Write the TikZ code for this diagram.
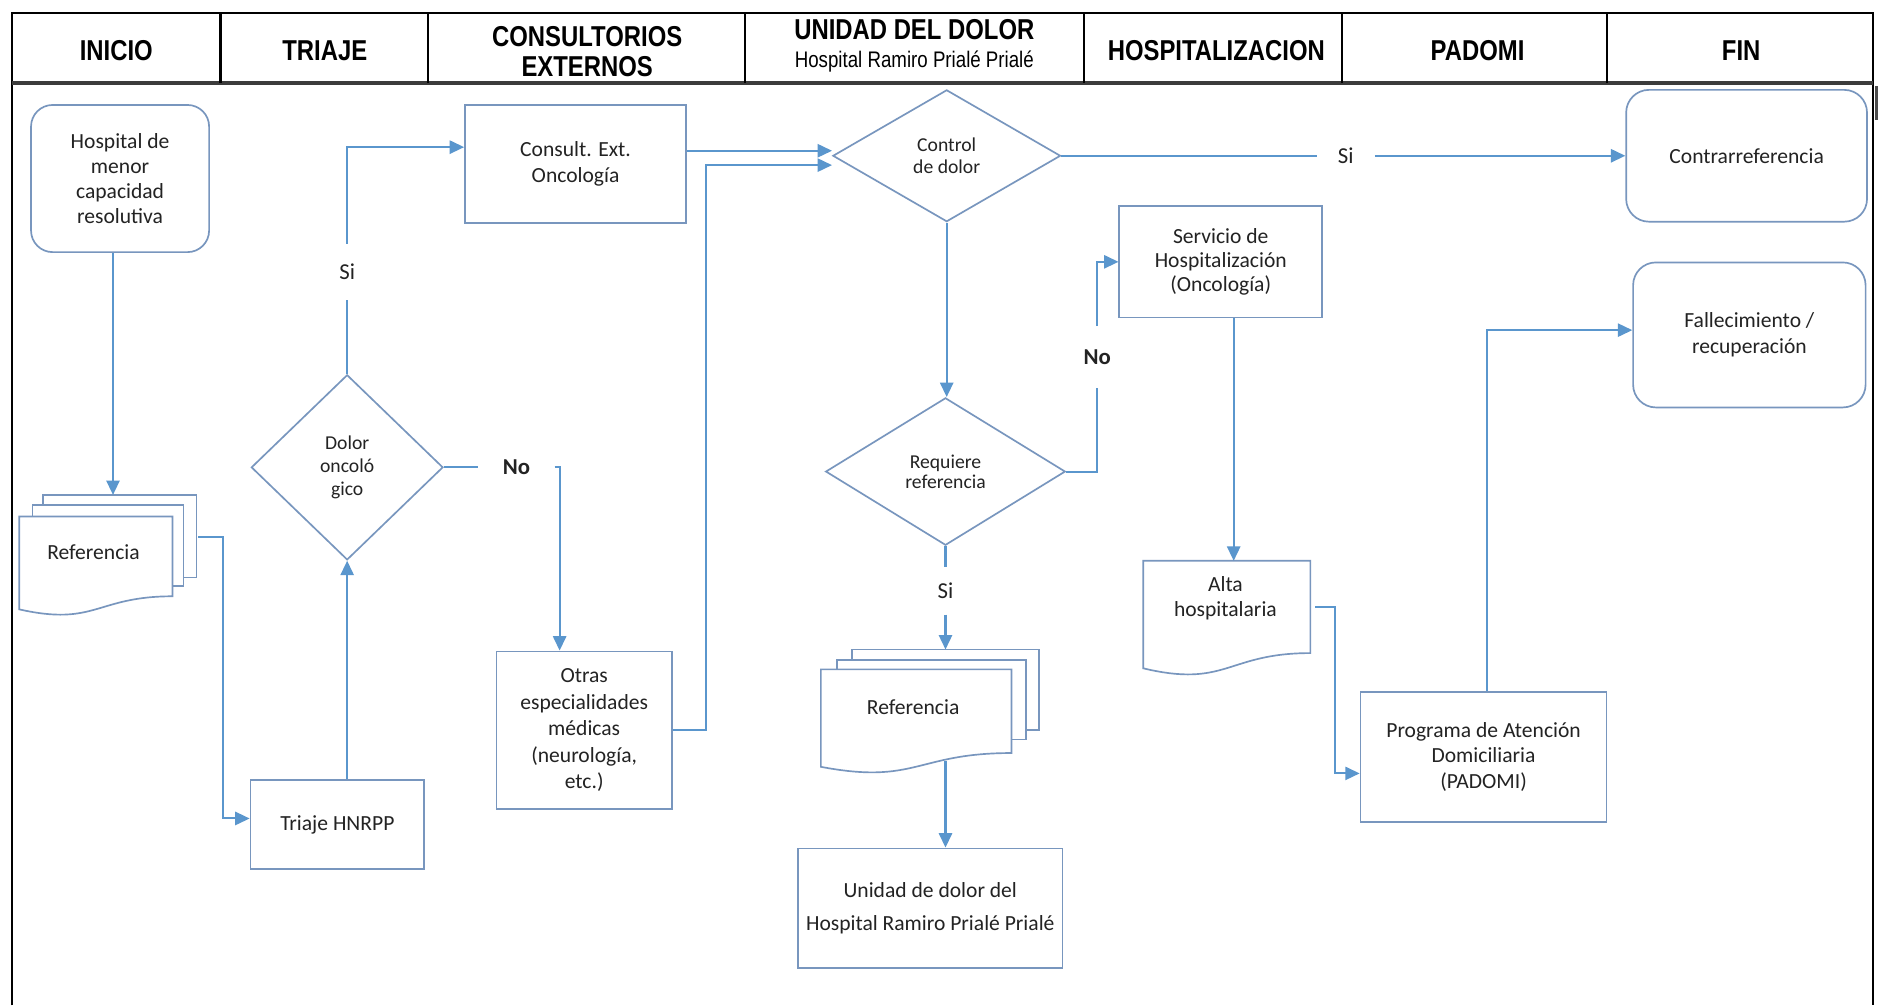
\documentclass[tikz,border=0pt]{standalone}
\usepackage{fontspec}
\setmainfont{Carlito}
\newfontfamily\hdrfont[FakeStretch=0.83]{Liberation Sans}
\usetikzlibrary{arrows.meta,shapes.geometric,calc}
\definecolor{boxc}{RGB}{120,150,190}
\definecolor{linec}{RGB}{90,150,205}
\definecolor{txt}{RGB}{35,35,35}
\definecolor{hdrline}{RGB}{60,60,60}
\newcommand\bodyfont{\fontsize{9}{10.5}\selectfont}
\newcommand\diafont{\fontsize{8.2}{9}\selectfont}
\newcommand\lblfont{\fontsize{9.5}{11}\selectfont}
\newcommand\hdrbig{\hdrfont\bfseries\fontsize{12}{12.8}\selectfont}
\newcommand\hdrsmall{\hdrfont\fontsize{9.4}{11}\selectfont}
\begin{document}
\begin{tikzpicture}[x=0.5pt,y=-0.5pt,
  box/.style={draw=boxc, line width=0.7pt, fill=white, align=center, inner sep=0pt, text=txt, font=\bodyfont},
  rbox/.style={box, rounded corners=9pt},
  dia/.style={draw=boxc, line width=0.7pt, fill=white, diamond, aspect=1, inner sep=0pt, align=center, text=txt, font=\diafont},
  doc/.style={draw=boxc, line width=0.7pt, fill=white},
  doctext/.style={align=center, inner sep=0pt, text=txt, font=\bodyfont},
  conn/.style={draw=linec, line width=0.85pt},
  arr/.style={conn, -{Triangle[length=6pt,width=5.5pt,fill=linec]}},
  lbl/.style={inner sep=0pt, text=txt, font=\lblfont},
  hdr/.style={align=center, inner sep=0pt, text=black},
  frame/.style={draw=black, line width=0.9pt}]
\useasboundingbox (0,0) rectangle (1568,839);
\fill[white] (0,0) rectangle (1568,839);

% ---------- frame and header ----------
\draw[frame] (10,839) -- (10,11) -- (1563,11) -- (1563,839);
\draw[draw=hdrline, line width=1.6pt] (10,69) -- (1563,69);
\foreach \xx in {184,357.5,622,904.5,1120,1341}
  \draw[frame] (\xx,11) -- (\xx,69);
\draw[draw=black!70, line width=1.4pt] (1566,72) -- (1566,100);

\node[hdr, font=\hdrbig] (h1) at (97,42) {INICIO};
\node[hdr, font=\hdrbig] (h2) at (271,42) {TRIAJE};
\node[hdr, font=\hdrbig] (h3) at (490,43) {CONSULTORIOS\\EXTERNOS};
\node[hdr, font=\hdrbig] (h4) at (763,25) {UNIDAD DEL DOLOR};
\node[hdr, font=\hdrsmall] (h4b) at (763,51.5) {Hospital Ramiro Prialé Prialé};
\node[hdr, font=\hdrbig] (h5) at (1015,42) {HOSPITALIZACION};
\node[hdr, font=\hdrbig] (h6) at (1233,42) {PADOMI};
\node[hdr, font=\hdrbig] (h7) at (1453,42) {FIN};

% ---------- documents ----------
\draw[doc] (36,413) rectangle (164,482);
\draw[doc] (27,421.5) rectangle (153,489);
\draw[doc] (16,431) -- (144,431) -- (144,497.6) .. controls (80,497.6) and (80,522.9) .. (16,508.5) -- cycle;
\node[doctext] (ref1) at (78,461) {Referencia};
\coordinate (r1top) at (94.3,413);
\coordinate (r1out) at (165.5,448);

\draw[doc] (711,542) rectangle (867,609);
\draw[doc] (698.5,551) rectangle (856,617);
\draw[doc] (685,558.6) -- (844,558.6) -- (844,628.4) .. controls (764.5,628.4) and (764.5,655) .. (685,639.9) -- cycle;
\node[doctext] (ref2) at (762,590) {Referencia};
\coordinate (r2top) at (789,542);
\coordinate (r2bot) at (789,635);

\draw[doc] (954,468) -- (1093.5,468) -- (1093.5,545) .. controls (1023.75,545) and (1023.75,574.3) .. (954,557.7) -- cycle;
\node[doctext] (alta) at (1022.6,499) {Alta\\hospitalaria};
\coordinate (a1in) at (1029.5,468);
\coordinate (a1out) at (1097.7,506.4);

% ---------- boxes ----------
\node[rbox, minimum width=74.3pt, minimum height=61.4pt, font=\fontsize{9}{10.4}\selectfont] (hosp) at (100.2,149) {Hospital de\\menor\\capacidad\\resolutiva};
\node[box, minimum width=72.5pt, minimum height=37pt] (triaje) at (281.5,688) {Triaje HNRPP};
\node[box, minimum width=92.3pt, minimum height=49.2pt] (consult) at (480.3,136.8) {Consult. Ext.\\Oncología};
\node[box, minimum width=73.25pt, minimum height=65.7pt, font=\fontsize{9}{11}\selectfont] (otras) at (487.5,609.3) {Otras\\especialidades\\médicas\\(neurología,\\etc.)};
\node[rbox, minimum width=100.5pt, minimum height=55pt, rounded corners=9.5pt] (contra) at (1457.5,130) {Contrarreferencia};
\node[box, minimum width=84.65pt, minimum height=46.45pt, font=\fontsize{9}{10}\selectfont] (servicio) at (1018.7,218.5) {Servicio de\\Hospitalización\\(Oncología)};
\node[box, minimum width=102.7pt, minimum height=54.35pt] (padomi) at (1238,631.6) {Programa de Atención\\Domiciliaria\\(PADOMI)};
\node[rbox, minimum width=97pt, minimum height=60.5pt, rounded corners=9.5pt, font=\fontsize{9}{11}\selectfont] (fall) at (1459.8,279.5) {Fallecimiento /\\recuperación};
\node[box, minimum width=110.3pt, minimum height=50pt, font=\fontsize{9}{14}\selectfont] (unidad) at (776.3,758) {Unidad de dolor del\\Hospital Ramiro Prialé Prialé};

% ---------- decisions ----------
\node[dia, minimum width=80pt, minimum height=77.25pt, font=\fontsize{8.2}{9.5}\selectfont] (dolor) at (289.7,390) {Dolor\\oncoló\\gico};
\node[dia, minimum width=95pt, minimum height=55pt] (control) at (790,130) {Control\\de dolor};
\node[dia, minimum width=100pt, minimum height=61.5pt, font=\fontsize{8.2}{8.5}\selectfont] (requiere) at (789,393.5) {Requiere\\referencia};

% ---------- labels ----------
\node[lbl, minimum height=23pt] (si1) at (289.7,227) {Si};
\node[lbl, minimum width=31.5pt, font=\lblfont\bfseries] (no1) at (431,390) {No};
\node[lbl, minimum width=24pt] (si2) at (1123,130) {Si};
\node[lbl, minimum height=25.5pt, font=\lblfont\bfseries] (no2) at (915.6,298) {No};
\node[lbl, minimum height=19.5pt] (si3) at (789,493) {Si};

% ---------- helper coordinates ----------
\coordinate (c2out) at ([yshift=5.5pt]consult.east);
\coordinate (c1in) at ([yshift=7pt]consult.west);
\coordinate (ctl2in) at ([yshift=-3.9pt]control.west);

% ---------- connectors ----------
\draw[arr] (hosp.south -| r1top) -- (r1top);
\draw[arr] (r1out) -- ++(20.5,0) |- ([yshift=2.5pt]triaje.west);
\draw[arr] (dolor.south |- triaje.north) -- (dolor.south);
\draw[conn] (dolor.north) -- (si1.south);
\draw[arr] (si1.north) |- (c1in);
\draw[conn] (dolor.east) -- (no1.west);
\draw[arr] (no1.east) -| ([xshift=-10.25pt]otras.north);
\draw[arr] (c2out) -- (control.west |- c2out);
\draw[arr] (otras.east) -- ++(27.7,0) |- (ctl2in);
\draw[conn] (control.east) -- (si2.west);
\draw[arr] (si2.east) -- (contra.west);
\draw[arr] (control.south) -- (control.south |- requiere.north);
\draw[conn] (requiere.east) -| (no2.south);
\draw[arr] (no2.north) |- (servicio.west);
\draw[conn] (requiere.south) -- (si3.north);
\draw[arr] (si3.south) -- (r2top);
\draw[arr] (r2bot) -- (r2bot |- unidad.north);
\draw[arr] (a1in |- servicio.south) -- (a1in);
\draw[arr] (a1out) -- ++(16.7,0) |- ([yshift=-6.9pt]padomi.west);
\draw[arr] ([xshift=1.5pt]padomi.north) |- ([yshift=2pt]fall.west);
\end{tikzpicture}
\end{document}
